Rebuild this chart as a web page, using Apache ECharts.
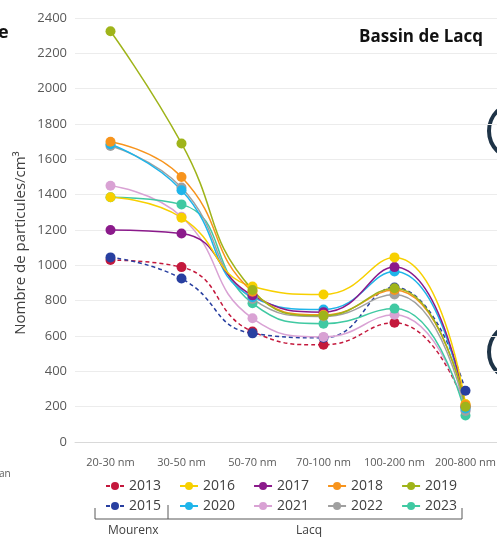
<!DOCTYPE html>
<html>
<head>
<meta charset="utf-8">
<script src="https://cdn.jsdelivr.net/npm/echarts@6/dist/echarts.min.js"></script>
<style>
  html, body { margin: 0; padding: 0; background: #fff; overflow: hidden; }
  #chart { width: 505px; height: 539px; }
</style>
</head>
<body>
<div id="chart"></div>
<script>
// catégories de taille des particules
var categories = ['20-30 nm', '30-50 nm', '50-70 nm', '70-100 nm', '100-200 nm', '200-800 nm'];
var yTicks = [0, 200, 400, 600, 800, 1000, 1200, 1400, 1600, 1800, 2000, 2200, 2400];

// valeurs par année (particules/cm3)
var y2013 = [1030, 990, 625, 550, 675, 195];
var y2015 = [1045, 925, 615, 590, 875, 290];
var y2016 = [1385, 1270, 880, 835, 1045, 215];
var y2017 = [1200, 1180, 830, 735, 990, 205];
var y2018 = [1700, 1500, 850, 720, 860, 210];
var y2019 = [2325, 1690, 860, 715, 870, 200];
var y2020 = [1685, 1425, 820, 750, 965, 190];
var y2021 = [1450, 1275, 700, 595, 720, 180];
var y2022 = [1675, 1440, 810, 710, 835, 175];
var y2023 = [1385, 1345, 785, 670, 755, 150];

var legendRow1 = ['2013', '2016', '2017', '2018', '2019'];
var legendRow2 = ['2015', '2020', '2021', '2022', '2023'];

var colors = {
  '2013': '#c4183c', '2015': '#283fa0', '2016': '#f7d000', '2017': '#8b1a8b',
  '2018': '#f7941d', '2019': '#9fb41a', '2020': '#1fb5ea', '2021': '#d9a2d4',
  '2022': '#a0a0a0', '2023': '#40c9a2'
};

function makeSeries(name, data, dashed) {
  return {
    name: name,
    type: 'line',
    smooth: 0.5,
    symbol: 'circle',
    symbolSize: 10,
    data: data,
    itemStyle: { color: colors[name] },
    lineStyle: { width: 1.5, type: dashed ? [4, 3] : 'solid', color: colors[name] },
    emphasis: { disabled: true }
  };
}

var chart = echarts.init(document.getElementById('chart'));
var font = '"Open Sans", "Noto Sans", sans-serif';

var legendBase = {
  itemWidth: 18,
  itemHeight: 10,
  itemGap: 18,
  textStyle: { fontSize: 14, color: '#404040', fontFamily: font }
};

var option = {
  animation: false,
  textStyle: { fontFamily: font },
  title: {
    text: 'Bassin de Lacq',
    right: 17,
    top: 24,
    textStyle: { fontSize: 17, fontWeight: 'bold', color: '#111', fontFamily: font }
  },
  legend: [
    Object.assign({ data: legendRow1, left: 100, top: 474 }, legendBase),
    Object.assign({ data: legendRow2, left: 100, top: 494 }, legendBase)
  ],
  // le graphique dépasse un peu à droite de la fenêtre, comme sur l'original
  grid: { left: 75, top: 18, right: 4, bottom: 97 },
  xAxis: {
    type: 'category',
    data: categories,
    boundaryGap: true,
    axisLine: { lineStyle: { color: '#d9d9d9' } },
    axisTick: { alignWithLabel: true, length: 5, lineStyle: { color: '#d9d9d9' } },
    axisLabel: { fontSize: 11, color: '#595959', margin: 15, interval: 0 }
  },
  yAxis: {
    type: 'value',
    min: yTicks[0],
    max: yTicks[yTicks.length - 1],
    interval: 200,
    axisLine: { show: false },
    axisTick: { show: false },
    axisLabel: { fontSize: 13, color: '#595959', margin: 8, formatter: function (v) { return String(v); } },
    splitLine: { lineStyle: { color: '#ececec' } }
  },
  graphic: [
    // titre de l'axe Y
    { type: 'text', x: 21, y: 243, rotation: Math.PI / 2,
      style: { text: 'Nombre de particules/cm³', fontSize: 15, fill: '#404040', fontFamily: font,
        align: 'center', verticalAlign: 'middle' } },
    // accolade Mourenx / Lacq
    { type: 'polyline', shape: { points: [[95, 508], [95, 519], [462, 519], [462, 508]] },
      style: { stroke: '#595959', lineWidth: 1, fill: null } },
    { type: 'line', shape: { x1: 168, y1: 505, x2: 168, y2: 519 }, style: { stroke: '#595959', lineWidth: 1 } },
    { type: 'text', left: 108, top: 525, style: { text: 'Mourenx', fontSize: 12, fill: '#404040', fontFamily: font } },
    { type: 'text', left: 296, top: 525, style: { text: 'Lacq', fontSize: 12, fill: '#404040', fontFamily: font } },
    // morceaux des graphiques voisins
    { type: 'text', left: -2, top: 24, style: { text: 'e', fontSize: 18, fontWeight: 'bold', fill: '#111', fontFamily: font } },
    { type: 'text', left: -1, top: 469, style: { text: 'an', fontSize: 10, fill: '#595959', fontFamily: font } },
    { type: 'circle', shape: { cx: 517, cy: 131, r: 28 }, style: { stroke: '#1f3447', lineWidth: 4, fill: null } },
    { type: 'circle', shape: { cx: 517, cy: 352, r: 28 }, style: { stroke: '#1f3447', lineWidth: 4, fill: null } }
  ],
  series: [
    makeSeries('2013', y2013, true),
    makeSeries('2015', y2015, true),
    makeSeries('2021', y2021),
    makeSeries('2023', y2023),
    makeSeries('2022', y2022),
    makeSeries('2020', y2020),
    makeSeries('2017', y2017),
    makeSeries('2016', y2016),
    makeSeries('2018', y2018),
    makeSeries('2019', y2019)
  ]
};

chart.setOption(option);
</script>
</body>
</html>
